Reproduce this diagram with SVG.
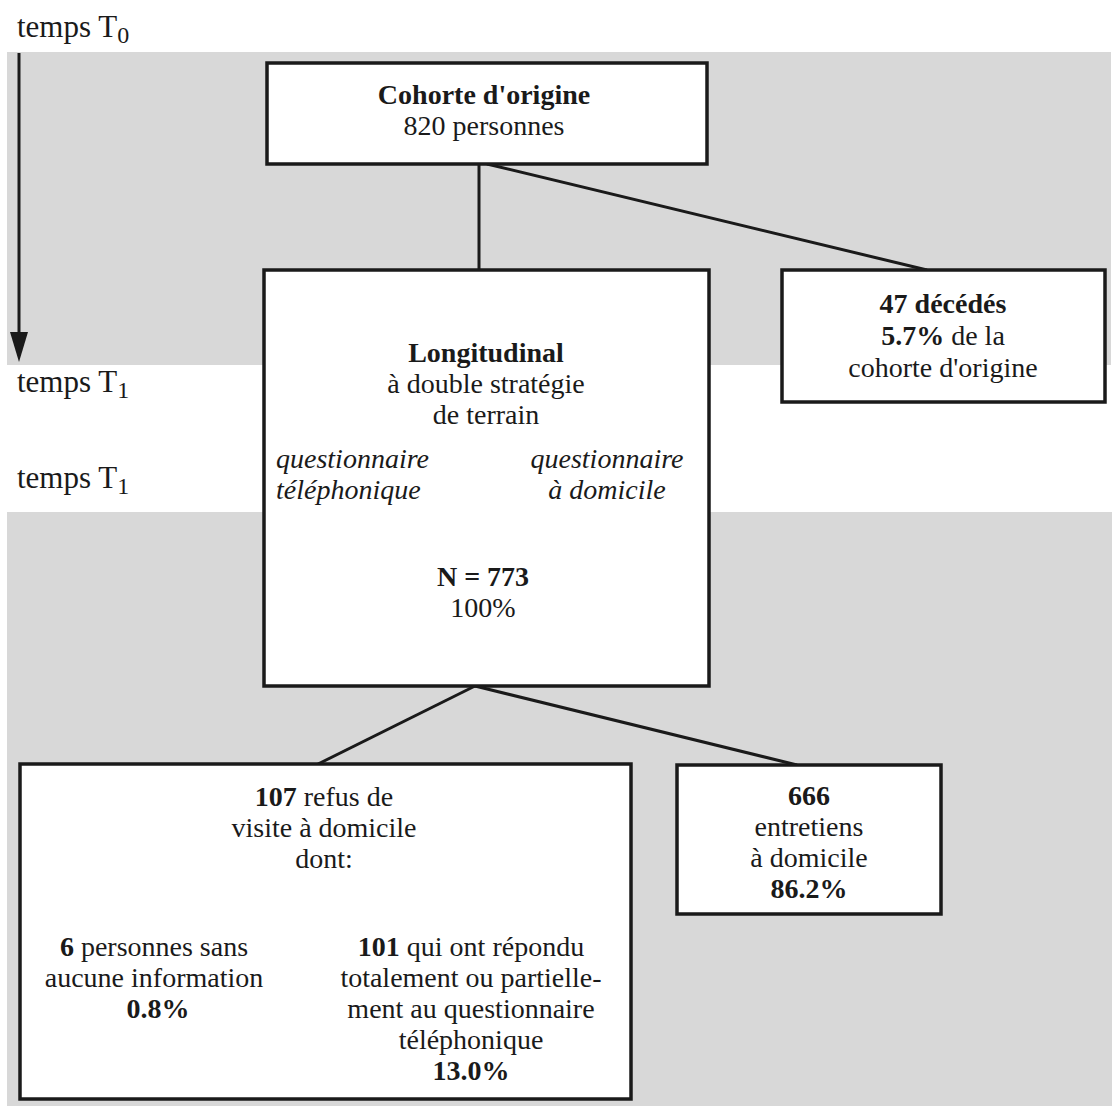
<svg xmlns="http://www.w3.org/2000/svg" width="1112" height="1106" viewBox="0 0 1112 1106">
<defs>
<style>
text{font-family:"Liberation Serif","Times New Roman",serif;font-size:28px;fill:#1a1a1a}
.c{text-anchor:middle}
.b{font-weight:bold}
.i{font-style:italic}
.t{font-size:31px}
.sub{font-size:24px}
.box{fill:#fff;stroke:#1a1a1a;stroke-width:3.5}
.band{fill:#d8d8d8}
.ln{stroke:#1a1a1a;stroke-width:3;fill:none}
</style>
</defs>
<rect width="1112" height="1106" fill="#fff"/>
<g id="bands">
<rect class="band" x="7" y="52" width="1104" height="313"/>
<rect class="band" x="7" y="512" width="1105" height="594"/>
</g>
<g id="timeline">
<line class="ln" x1="19" y1="53" x2="19" y2="336"/>
<polygon points="10,332 28,332 19,362" fill="#1a1a1a"/>
<text class="t" x="17" y="37">temps T<tspan class="sub" dy="6">0</tspan></text>
<text class="t" x="17" y="392">temps T<tspan class="sub" dy="6">1</tspan></text>
<text class="t" x="17" y="488">temps T<tspan class="sub" dy="6">1</tspan></text>
</g>
<g id="connectors">
<line class="ln" x1="479" y1="164" x2="479" y2="270"/>
<line class="ln" x1="487" y1="164" x2="927" y2="270"/>
<line class="ln" x1="475" y1="686" x2="318" y2="764"/>
<line class="ln" x1="475" y1="686" x2="797" y2="765"/>
</g>
<g id="cohorte">
<rect class="box" x="267" y="63" width="440" height="101"/>
<text class="c b" x="484" y="104">Cohorte d'origine</text>
<text class="c" x="484" y="135">820 personnes</text>
</g>
<g id="longitudinal">
<rect class="box" x="264" y="270" width="445" height="416"/>
<text class="c b" x="486" y="362">Longitudinal</text>
<text class="c" x="486" y="393">à double stratégie</text>
<text class="c" x="486" y="424">de terrain</text>
<text class="i" x="276" y="468">questionnaire</text>
<text class="i" x="276" y="499">téléphonique</text>
<text class="c i" x="607" y="468">questionnaire</text>
<text class="c i" x="607" y="499">à domicile</text>
<text class="c b" x="483" y="586">N = 773</text>
<text class="c" x="483" y="617">100%</text>
</g>
<g id="deces">
<rect class="box" x="782" y="270" width="323" height="132"/>
<text class="c b" x="943" y="313">47 décédés</text>
<text class="c" x="943" y="345"><tspan class="b">5.7%</tspan> de la</text>
<text class="c" x="943" y="377">cohorte d'origine</text>
</g>
<g id="refus">
<rect class="box" x="20" y="764" width="611" height="335"/>
<text class="c" x="324" y="806"><tspan class="b">107</tspan> refus de</text>
<text class="c" x="324" y="837">visite à domicile</text>
<text class="c" x="324" y="868">dont:</text>
<text class="c" x="154" y="956"><tspan class="b">6</tspan> personnes sans</text>
<text class="c" x="154" y="987">aucune information</text>
<text class="c b" x="158" y="1018">0.8%</text>
<text class="c" x="471" y="956"><tspan class="b">101</tspan> qui ont répondu</text>
<text class="c" x="471" y="987">totalement ou partielle-</text>
<text class="c" x="471" y="1018">ment au questionnaire</text>
<text class="c" x="471" y="1049">téléphonique</text>
<text class="c b" x="471" y="1080">13.0%</text>
</g>
<g id="entretiens">
<rect class="box" x="677" y="765" width="264" height="149"/>
<text class="c b" x="809" y="805">666</text>
<text class="c" x="809" y="836">entretiens</text>
<text class="c" x="809" y="867">à domicile</text>
<text class="c b" x="809" y="898">86.2%</text>
</g>
</svg>
